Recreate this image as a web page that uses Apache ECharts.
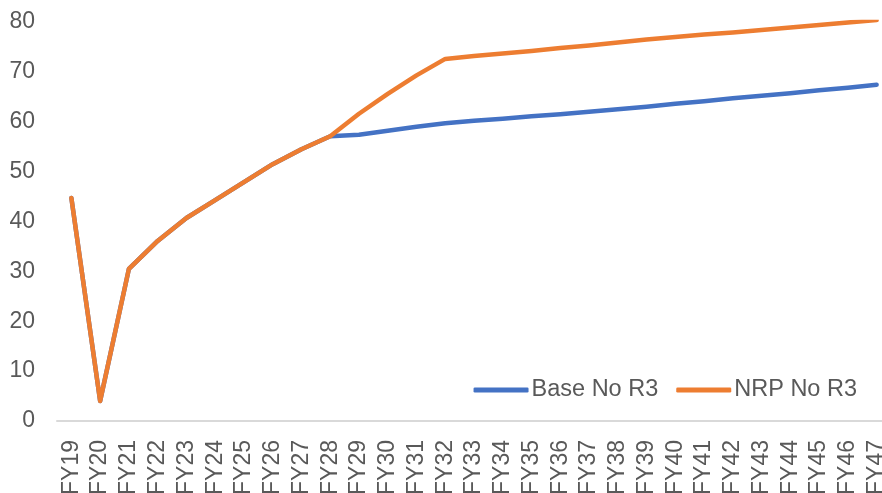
<!DOCTYPE html>
<html>
<head>
<meta charset="utf-8">
<script src="https://cdn.jsdelivr.net/npm/echarts@6/dist/echarts.min.js"></script>
<style>
html,body{margin:0;padding:0;background:#fff;}
#chart{width:882px;height:493px;}
</style>
</head>
<body>
<div id="chart"></div>
<script>
const categories = ['FY19','FY20','FY21','FY22','FY23','FY24','FY25','FY26','FY27','FY28','FY29','FY30','FY31','FY32','FY33','FY34','FY35','FY36','FY37','FY38','FY39','FY40','FY41','FY42','FY43','FY44','FY45','FY46','FY47'];
const baseNoR3 = [44.7,4.0,30.5,36.1,40.7,44.3,47.9,51.5,54.5,57.1,57.4,58.2,59.0,59.7,60.2,60.6,61.1,61.5,62.0,62.5,63.0,63.6,64.1,64.7,65.2,65.7,66.3,66.8,67.4];
const nrpNoR3 = [44.7,4.0,30.5,36.1,40.7,44.3,47.9,51.5,54.5,57.1,61.6,65.6,69.3,72.6,73.2,73.7,74.2,74.8,75.3,75.9,76.5,77.0,77.5,77.9,78.4,78.9,79.4,79.9,80.4];
const seriesNames = ['Base No R3','NRP No R3'];

const chart = echarts.init(document.getElementById('chart'), null, {renderer:'canvas'});
const font = 'Liberation Sans, Arial, sans-serif';
chart.setOption({
  animation:false,
  backgroundColor:'#ffffff',
  color:['#4472C4','#ED7D31'],
  grid:{left:57, top:22, bottom:72, width:834, containLabel:false, outerBoundsMode:'none'},
  legend:{
    data:seriesNames,
    right:20, top:372,
    icon:'roundRect',
    itemWidth:55, itemHeight:5, itemGap:18,
    textStyle:{fontFamily:font, fontSize:23.5, color:'#595959', padding:[0,0,0,-2], lineHeight:26}
  },
  xAxis:{
    type:'category',
    data:categories,
    boundaryGap:true,
    axisLine:{lineStyle:{color:'#d9d9d9', width:2}},
    axisTick:{show:false},
    axisLabel:{rotate:90, margin:19, interval:0, fontFamily:font, fontSize:23, color:'#595959'}
  },
  yAxis:{
    type:'value',
    min:0, max:80, interval:10,
    axisLine:{show:false},
    axisTick:{show:false},
    splitLine:{show:false},
    axisLabel:{margin:22, fontFamily:font, fontSize:23, color:'#595959'}
  },
  series:[
    {name:seriesNames[0], type:'line', data:baseNoR3, showSymbol:false, symbol:'none',
     lineStyle:{width:4.5, cap:'round', join:'round'}},
    {name:seriesNames[1], type:'line', data:nrpNoR3, showSymbol:false, symbol:'none',
     lineStyle:{width:4.5, cap:'round', join:'round'}}
  ]
});
</script>
</body>
</html>
